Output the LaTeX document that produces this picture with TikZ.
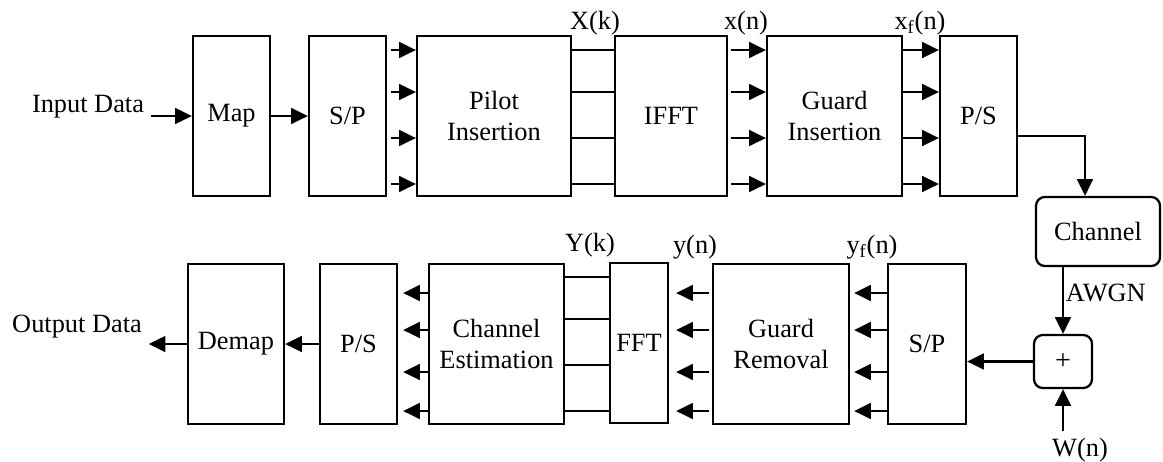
\documentclass[tikz,border=0pt]{standalone}
\usepackage{fontspec}
\setmainfont{Liberation Serif}
\newfontfamily\timesfont{Liberation Serif}
\usetikzlibrary{positioning, arrows.meta, calc}

\begin{document}
\begin{tikzpicture}[x=0.02cm,y=-0.02cm,->,>={Triangle[length=9.5pt,width=9pt]},line width=1.3pt,
    font=\timesfont\fontsize{15}{17.5}\selectfont,
    block/.style={draw,rectangle,align=center,inner sep=2pt,minimum height=3.2cm},
    rblock/.style={draw,rectangle,rounded corners=5pt,align=center,inner sep=2pt}]
    \useasboundingbox (0,0) rectangle (1163,461);

    \node[block,minimum width=1.54cm] (map) at (231.5,116) {Map};
    \node[block,minimum width=1.54cm] (sp1) at (347.5,116) {S/P};
    \node[block,minimum width=3.08cm] (pilot) at (494,116) {Pilot\\Insertion};
    \node[block,minimum width=2.24cm] (ifft) at (671,116) {IFFT};
    \node[block,minimum width=2.7cm] (gins) at (834.5,116) {Guard\\Insertion};
    \node[block,minimum width=1.54cm] (ps1) at (978.5,116) {P/S};
    \node[rblock,minimum width=2.48cm,minimum height=1.38cm] (chan) at (1098,231.5) {Channel};
    \node[rblock,minimum width=1.16cm,minimum height=1.06cm,font=\timesfont\fontsize{16}{18}\selectfont] (plus) at (1063,361.5) {+};

    \node[block,minimum width=1.56cm] (sp2) at (927,344) {S/P};
    \node[block,minimum width=2.72cm] (grem) at (781,344) {Guard\\Removal};
    \node[block,minimum width=1.16cm] (fft) at (639,343) {FFT};
    \node[block,minimum width=2.7cm] (cest) at (496.5,344) {Channel\\Estimation};
    \node[block,minimum width=1.54cm] (ps2) at (358.5,344) {P/S};
    \node[block,minimum width=1.92cm] (demap) at (236,344) {Demap};

    \node (indata) at (88,107) {Input Data};
    \node (outdata) at (77,327) {Output Data};
    \node (xk) at (595,23) {X(k)};
    \node (xn) at (746,23) {x(n)};
    \node (xfn) at (920,23) {x\textsubscript{f}(n)};
    \node (yk) at (590,245) {Y(k)};
    \node (yn) at (695,247) {y(n)};
    \node (yfn) at (872,247) {y\textsubscript{f}(n)};
    \node (wn) at (1080,450) {W(n)};

    \path (indata.east |- map.west) edge (map.west)
          (map) edge (sp1)
          (ps2) edge (demap)
          (demap) edge (outdata.east |- demap.west)
          (plus.west) edge (plus.west -| sp2.east)
          (wn.north -| plus.south) edge (plus.south);

    \foreach \d in {-66,-24,22,68} {
        \draw ($(sp1.east)+(4,\d)$) -- ($(pilot.west)+(0,\d)$);
        \draw[-] ($(pilot.east)+(0,\d)$) -- ($(ifft.west)+(0,\d)$);
        \draw ($(ifft.east)+(3,\d)$) -- ($(gins.west)+(0,\d)$);
        \draw ($(gins.east)+(0,\d)$) -- ($(ps1.west)+(0,\d)$);
    }
    \foreach \d in {-51,-14,28,67} {
        \draw ($(cest.west)+(0,\d)$) -- ($(ps2.east)+(5,\d)$);
        \draw ($(grem.west)+(-3,\d)$) -- ($(fft.east)+(7,\d+1)$);
        \draw ($(sp2.west)+(0,\d)$) -- ($(grem.east)+(4,\d)$);
    }
    \foreach \d in {-67,-25,21,67}
        \draw[-] ($(cest.east)+(0,\d)$) -- ($(fft.west)+(0,\d+1)$);

    \draw ($(ps1.east)+(0,20)$) -| ($(chan.north)+(-13,0)$);
    \draw (chan.south -| plus.north) -- (plus.north) node[pos=0.38,right,inner sep=1pt] {AWGN};
\end{tikzpicture}
\end{document}
